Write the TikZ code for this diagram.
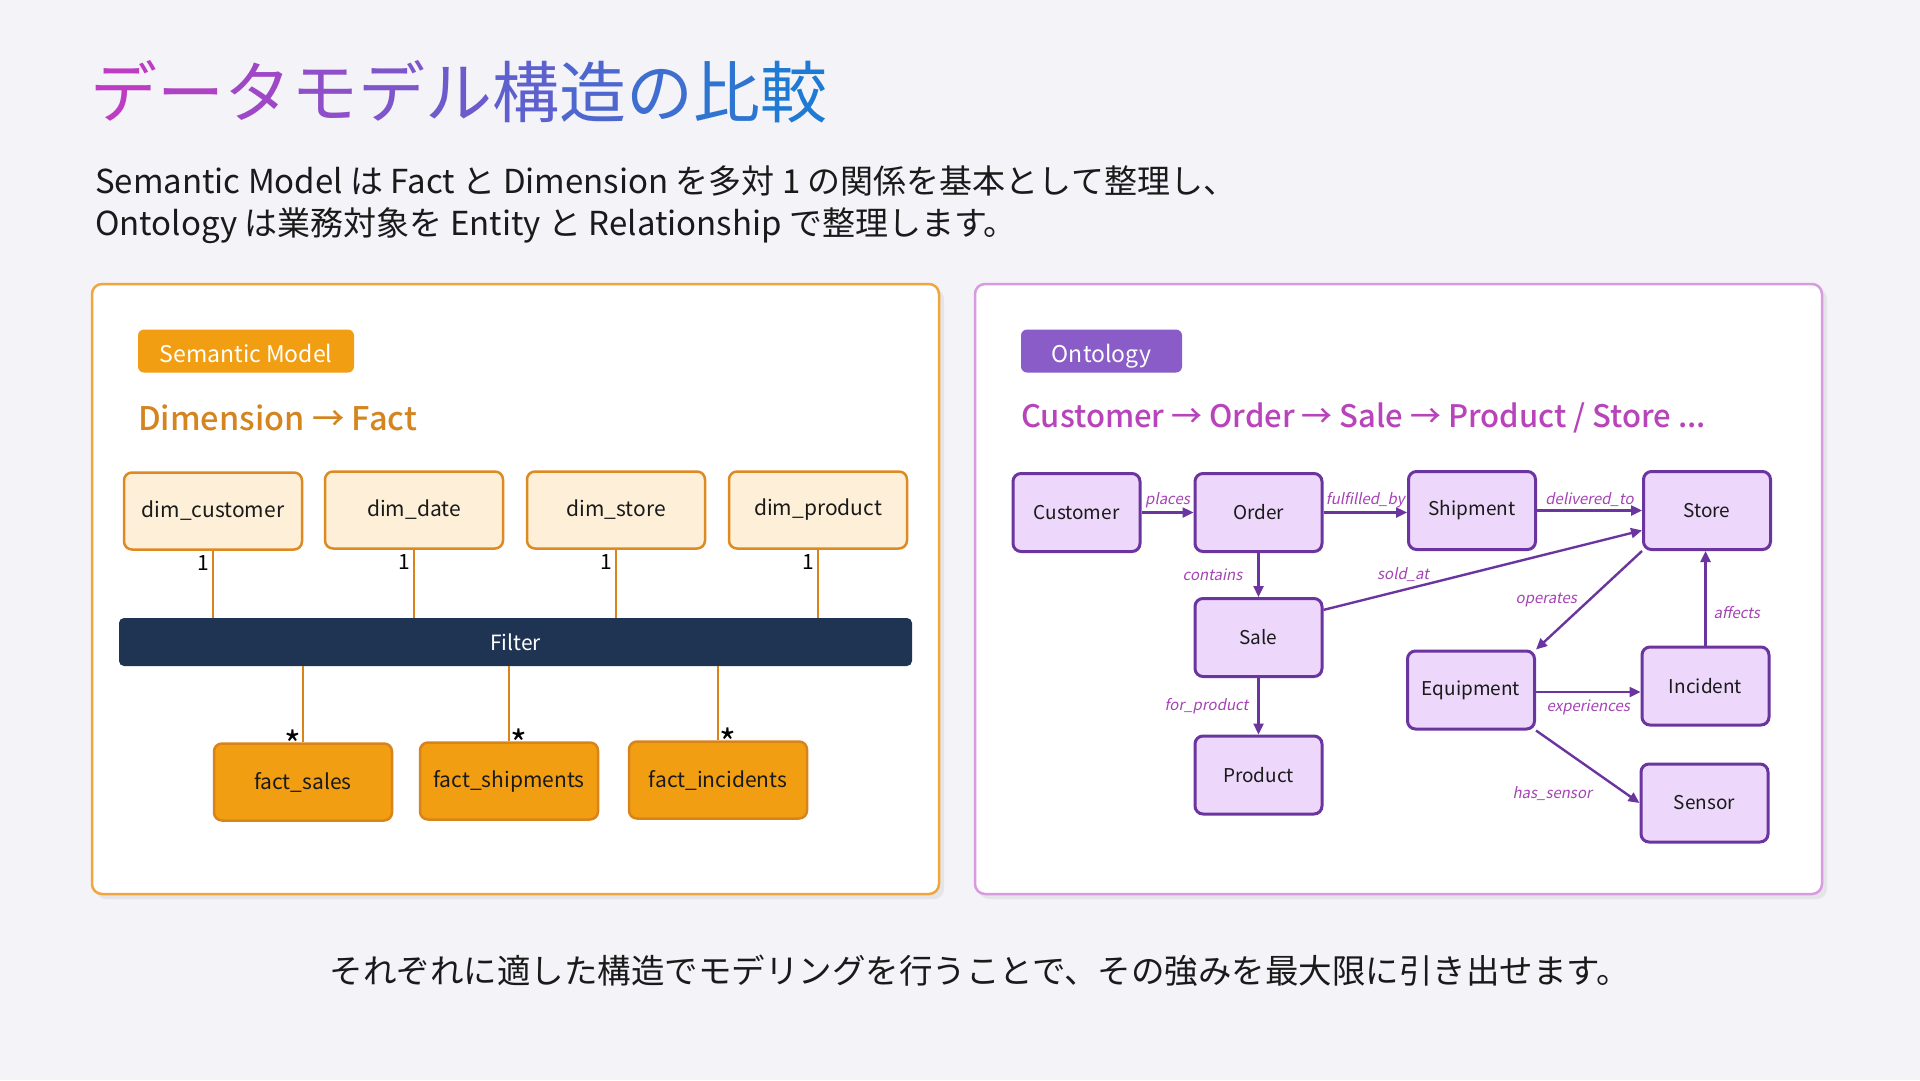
\documentclass[tikz,border=0pt]{standalone}
\usepackage{fontspec}
\setmainfont{Noto Sans CJK JP}
\newfontfamily\lblfont[FakeSlant=0.2]{Noto Sans CJK JP}
\newfontfamily\semib{Noto Sans CJK JP Medium}
\usetikzlibrary{arrows.meta,positioning}
\definecolor{bgc}{HTML}{F3F3F8}
\definecolor{tstart}{HTML}{BE3CC4}
\definecolor{tend}{HTML}{1E7AD2}
\definecolor{panelor}{HTML}{F0A63A}
\definecolor{panelpu}{HTML}{D89BE0}
\definecolor{tagor}{HTML}{F29E12}
\definecolor{heador}{HTML}{D4851F}
\definecolor{dimfill}{HTML}{FEF0D8}
\definecolor{dimdraw}{HTML}{DE8A22}
\definecolor{factdraw}{HTML}{D9841A}
\definecolor{filterc}{HTML}{1F3352}
\definecolor{tagpu}{HTML}{8A5CC8}
\definecolor{headpu}{HTML}{B843BA}
\definecolor{entfill}{HTML}{EDD8FB}
\definecolor{entdraw}{HTML}{6B35A0}
\definecolor{lblc}{HTML}{A543B5}
\definecolor{txt}{HTML}{1A1A1A}
\newcommand{\fs}[1]{\fontsize{#1}{#1}\selectfont}
\tikzset{
  panel/.style={line width=2.5pt, rounded corners=10pt, fill=white},
  tagbox/.style={rounded corners=6pt, text=white, inner sep=0pt, font=\fs{23}, text height=24pt, text depth=2pt},
  dimbox/.style={draw=dimdraw, fill=dimfill, line width=2.5pt, rounded corners=8pt, minimum width=178pt, minimum height=77pt, font=\fs{21}, text=txt, inner sep=0pt},
  factbox/.style={draw=factdraw, fill=tagor, line width=2.5pt, rounded corners=8pt, minimum width=178pt, minimum height=77pt, font=\fs{21}, text=txt, inner sep=0pt},
  entbox/.style={draw=entdraw, fill=entfill, line width=3pt, rounded corners=8pt, minimum width=127pt, minimum height=78pt, font=\fs{19}, text=txt, inner sep=0pt},
  dimline/.style={draw=factdraw, line width=2pt},
  rel/.style={draw=entdraw, line width=2.4pt, -{Triangle[length=11pt,width=10pt]}},
  rlbl/.style={font=\lblfont\fs{15}, text=lblc, inner sep=3pt},
  card/.style={font=\fs{21}, text=black, inner sep=0pt},
  star/.style={font=\fs{36}, text=black, inner sep=0pt},
}
\begin{document}
\begin{tikzpicture}[x=1pt,y=-1pt]
\fill[bgc] (0,0) rectangle (1920,1080);
\useasboundingbox (0,0) rectangle (1920,1080);

% title with gradient
\node[anchor=west, inner sep=0pt, font=\fs{67}] (title) at (90,92) {%
\textcolor{tstart}{デ}\textcolor{tend!10!tstart}{ー}\textcolor{tend!20!tstart}{タ}\textcolor{tend!30!tstart}{モ}\textcolor{tend!40!tstart}{デ}\textcolor{tend!50!tstart}{ル}\textcolor{tend!60!tstart}{構}\textcolor{tend!70!tstart}{造}\textcolor{tend!80!tstart}{の}\textcolor{tend!90!tstart}{比}\textcolor{tend}{較}};

\node[anchor=west, inner sep=0pt, font=\fs{33}, text=txt] (sub1) at (95,181) {Semantic Model は Fact と Dimension を多対 1 の関係を基本として整理し、};
\node[anchor=west, inner sep=0pt, font=\fs{33}, text=txt] (sub2) at (95,226) {Ontology は業務対象を Entity と Relationship で整理します。};

% panels with soft shadow
\fill[black, opacity=0.06, rounded corners=10pt] (96,289) rectangle (944,899);
\fill[black, opacity=0.06, rounded corners=10pt] (979,289) rectangle (1827,899);
\draw[panel, draw=panelor] (92,284) rectangle (939,894);
\draw[panel, draw=panelpu] (975,284) rectangle (1822,894);

% left panel
\node[tagbox, fill=tagor, minimum width=216pt, minimum height=43pt] (smtag) at (246,351) {Semantic Model};
\node[anchor=west, inner sep=0pt, font=\semib\fs{32.5}, text=heador] (smhead) at (138,418) {Dimension → Fact};

\node[dimbox] (dc) at (213,511) {dim\_customer};
\node[dimbox] (dd) at (414,510) {dim\_date};
\node[dimbox] (ds) at (616,510) {dim\_store};
\node[dimbox] (dp) at (818,510) {dim\_product};

\node[fill=filterc, rounded corners=5pt, minimum width=793pt, minimum height=48pt, inner sep=0pt, text=white, font=\fs{21}] (filter) at (515.5,642) {Filter};

\node[factbox] (fs) at (303,782) {fact\_sales};
\node[factbox] (fsh) at (509,781) {fact\_shipments};
\node[factbox] (fi) at (718,780) {fact\_incidents};

\foreach \d in {dc,dd,ds,dp}{
  \draw[dimline] (\d.south) -- (\d.south |- filter.north);
  \node[card, anchor=north east] at ([xshift=-4pt,yshift=-5pt]\d.south) {1};
}
\draw[dimline] (filter.south -| fs.north) -- (fs.north);
\draw[dimline] (filter.south -| fsh.north) -- (fsh.north);
\draw[dimline] (filter.south -| fi.north) -- (fi.north);
\node[star, anchor=base east] at ([xshift=-1pt,yshift=-16pt]fs.north) {*};
\node[star, anchor=base west] at ([xshift=1pt,yshift=-16pt]fsh.north) {*};
\node[star, anchor=base west] at ([xshift=1pt,yshift=-16pt]fi.north) {*};

% right panel
\node[tagbox, fill=tagpu, minimum width=161pt, minimum height=43pt] (ontag) at (1101.5,351) {Ontology};
\node[anchor=west, inner sep=0pt, font=\semib\fs{31}, text=headpu] (onhead) at (1021,418) {Customer → Order → Sale → Product / Store ...};

\node[entbox] (cust) at (1076.5,512.5) {Customer};
\node[entbox] (ord) at (1258.5,512.5) {Order};
\node[entbox] (ship) at (1472,510.5) {Shipment};
\node[entbox] (store) at (1707,510.5) {Store};
\node[entbox] (sale) at (1258.5,637.5) {Sale};
\node[entbox] (prod) at (1258.5,775) {Product};
\node[entbox] (eq) at (1471,690) {Equipment};
\node[entbox] (inc) at (1705.5,686) {Incident};
\node[entbox] (sen) at (1704.5,803) {Sensor};

\draw[rel] (cust.east) -- node[rlbl, above] {places} (ord.west);
\draw[rel] (ord.east) -- node[rlbl, above] {fulfilled\_by} (ord.east -| ship.west);
\draw[rel] (ship.east) -- node[rlbl, above] {delivered\_to} (store.west);
\draw[rel] (ord.south) -- node[rlbl, left=12pt] {contains} (sale.north);
\draw[rel] (sale.south) -- node[rlbl, left=6pt] {for\_product} (prod.north);
\draw[rel] (sale.23) -- node[rlbl, pos=0.25, above=4pt] {sold\_at} (store.197);
\draw[rel] (store.south west) -- node[rlbl, left=8pt] {operates} (eq.north east);
\draw[rel] (inc.north) -- node[rlbl, right=4pt, pos=0.35] {affects} (inc.north |- store.south);
\draw[rel] ([yshift=-2pt]eq.east) -- node[rlbl, below=4pt] {experiences} ([yshift=-2pt]eq.east -| inc.west);
\draw[rel] (eq.south east) -- node[rlbl, below left=8pt and 2pt, pos=0.6] {has\_sensor} (sen.west);

% bottom text
\node[inner sep=0pt, font=\fs{33.5}, text=txt] (bottom) at (980,971) {それぞれに適した構造でモデリングを行うことで、その強みを最大限に引き出せます。};
\end{tikzpicture}
\end{document}
